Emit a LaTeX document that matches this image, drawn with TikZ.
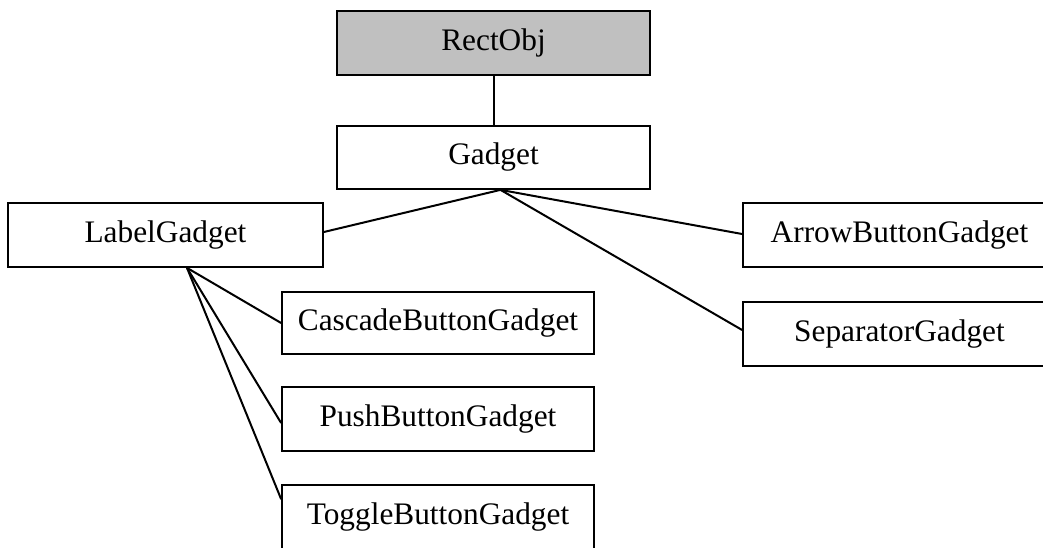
\documentclass[tikz,border=0pt]{standalone}
\usepackage{fontspec}
\setmainfont{Liberation Serif}
\usetikzlibrary{calc}
\definecolor{boxgray}{RGB}{192,192,192}
\begin{document}
\begin{tikzpicture}[x=0.75pt,y=-0.75pt,
  cls/.style={draw=black,line width=1.3pt,fill=white,inner sep=0pt,
    font=\fontsize{23.5}{28}\selectfont,anchor=center},
  link/.style={draw=black,line width=1.5pt}]
\useasboundingbox (0,0) rectangle (1043,547);
\clip (0,0) rectangle (1043,547);
\node[cls,fill=boxgray,minimum width=313*0.75pt,minimum height=64*0.75pt] (rect) at (493.5,43) {RectObj};
\node[cls,minimum width=313*0.75pt,minimum height=63*0.75pt] (gadget) at (493.5,157.5) {Gadget};
\node[cls,minimum width=315*0.75pt,minimum height=64*0.75pt] (label) at (165.5,235) {LabelGadget};
\node[cls,minimum width=312*0.75pt,minimum height=62*0.75pt] (cascade) at (438,323) {CascadeButtonGadget};
\node[cls,minimum width=312*0.75pt,minimum height=64*0.75pt] (push) at (438,419) {PushButtonGadget};
\node[cls,minimum width=312*0.75pt,minimum height=64*0.75pt] (toggle) at (438,517) {ToggleButtonGadget};
\node[cls,minimum width=313*0.75pt,minimum height=64*0.75pt] (arrow) at (899.5,235) {ArrowButtonGadget};
\node[cls,minimum width=313*0.75pt,minimum height=64*0.75pt] (sep) at (899.5,334) {SeparatorGadget};
\coordinate (gj) at ($(gadget.south)+(7,0)$);
\coordinate (lj) at ($(label.south)+(21.5,0)$);
\draw[link] (rect.south) -- (gadget.north);
\draw[link] (gj) -- ($(label.east)+(0,-3)$);
\draw[link] (gj) -- ($(arrow.west)+(0,-1)$);
\draw[link] (gj) -- ($(sep.west)+(0,-4)$);
\draw[link] (lj) -- (cascade.west);
\draw[link] (lj) -- ($(push.west)+(0,4)$);
\draw[link] (lj) -- ($(toggle.north west)+(0,15)$);
\end{tikzpicture}
\end{document}
